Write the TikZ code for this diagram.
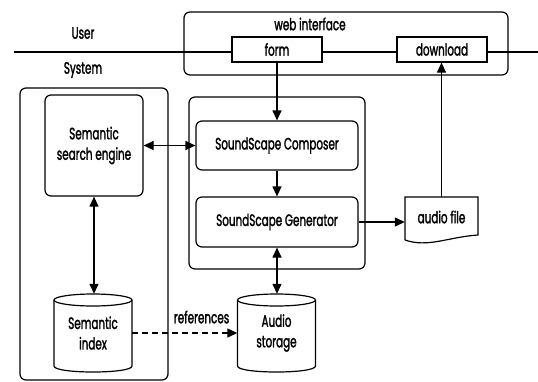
\documentclass[tikz,border=0pt]{standalone}
\usepackage{fontspec}
\setmainfont{Poppins}[FakeStretch=0.63,FakeBold=1.6]
\usetikzlibrary{arrows.meta}
\begin{document}
\begin{tikzpicture}[x=1pt,y=-1pt,
  font=\fontsize{16.5}{20.5}\selectfont,
  ln/.style={line width=1.2pt},
  cont/.style={ln,draw,rounded corners=6pt},
  proc/.style={ln,draw,fill=white,rounded corners=6pt,align=center,inner sep=0pt},
  ifbox/.style={ln,draw,fill=white,inner sep=0pt},
  dbtext/.style={inner sep=0pt,align=center,minimum width=78pt,minimum height=78pt},
  arr/.style={ln,-{Triangle[length=10pt,width=9pt]}},
  barr/.style={ln,{Triangle[length=10pt,width=9pt]}-{Triangle[length=10pt,width=9pt]}},
  lbl/.style={inner sep=0pt}
]
\useasboundingbox (0,0) rectangle (538,381);

% user / system divider
\coordinate (L) at (14,52);
\coordinate (R) at (538,52);
\node[lbl] (user) at (83,33) {User};
\node[lbl] (system) at (83,70) {System};

% web interface
\draw[cont] (184,12) rectangle (508,75);
\node[lbl] (web) at (310,24) {web interface};
\draw[line width=2.2pt] (L) -- (R);
\node[ifbox,minimum width=90pt,minimum height=25pt] (form) at (277,49.5) {form};
\node[ifbox,minimum width=90pt,minimum height=25pt] (dl) at (442,49.5) {download};

% containers
\draw[cont] (20,88) rectangle (168,380);
\draw[cont] (189,97) rectangle (365,269);

% processes
\node[proc,minimum width=98pt,minimum height=101pt] (se) at (94,145.5) {Semantic\\search engine};
\node[proc,minimum width=162pt,minimum height=49pt] (comp) at (277,145.5) {SoundScape Composer};
\node[proc,minimum width=162pt,minimum height=50pt] (gen) at (277,222) {SoundScape Generator};

% databases
\node[dbtext] (si) at (93,333) {Semantic\\index};
\node[dbtext] (as) at (276.5,333) {Audio\\storage};
\foreach \cx/\lx/\rx in {93/54/132, 276.5/237.5/315.5}{
  \draw[ln] (\cx,300) ellipse (39 and 6);
  \draw[ln] (\lx,300) -- (\lx,366) .. controls (\lx,374) and (\rx,374) .. (\rx,366) -- (\rx,300);
}

% document
\node[inner sep=0pt,minimum width=73pt,minimum height=40pt] (af) at (441.5,217) {audio file};
\draw[ln] (405,240) -- (405,197) -- (478,197) -- (478,235)
  .. controls (448,237) and (428,248) .. (405,240);

% connectors
\draw[arr] (form.south) -- (comp.north);
\draw[arr] (comp.south) -- (gen.north);
\draw[barr] (se.east) -- (comp.west);
\draw[barr] (se.south) -- (se.south |- si.north);
\draw[barr] (gen.south) -- (gen.south |- as.north);
\draw[arr] (gen.east) -- (gen.east -| af.west);
\draw[arr] (af.north) -- (af.north |- dl.south);
\draw[ln,dashed,dash pattern=on 6pt off 4pt,-{Triangle[length=10pt,width=9pt]}] (si.east) -- node[pos=0.66,above=9pt,lbl] {references} (as.west);
\end{tikzpicture}
\end{document}
